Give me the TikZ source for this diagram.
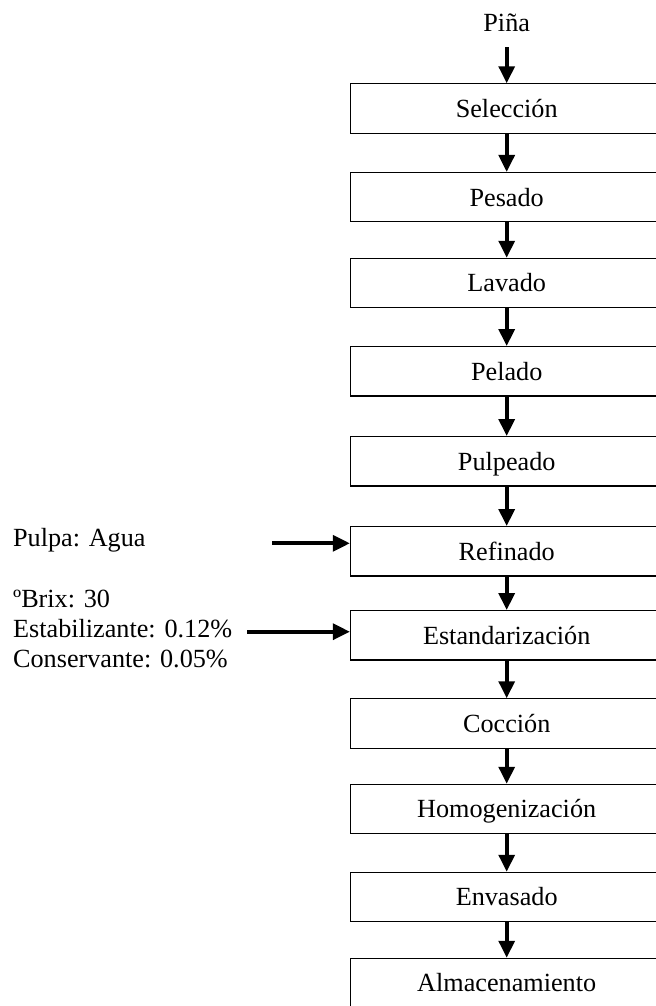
\documentclass[tikz,border=0pt]{standalone}
\usepackage{fontspec}
\setmainfont{Liberation Serif}
\usetikzlibrary{arrows.meta,calc}

\begin{document}
\begin{tikzpicture}[x=0.458pt,y=-0.458pt,
  caja/.style={draw,line width=0.5pt,minimum width=143.1pt,minimum height=22.6pt,inner sep=0pt,
    text height=8.6pt,text depth=0.4pt,font=\fontsize{12}{13.7}\selectfont},
  texto/.style={inner sep=0pt,font=\fontsize{12}{13.7}\selectfont},
  flecha/.style={line width=1.8pt,-{Triangle[length=7.8pt,width=7.2pt]}}]
%Hoja fija: 656 x 1006 px, las cajas se salen a la derecha y abajo
\useasboundingbox (0,0) rectangle (656,1006);
\clip (0,0) rectangle (656,1006);
  \pgfmathsetmacro{\xc}{506.7}
%Etapas del proceso: nombre/centro y/texto
\foreach \n/\y/\t in {sel/108.5/Selección, pes/197.2/Pesado, lav/283/Lavado, pel/371.3/Pelado,
  pul/461.3/Pulpeado, ref/551.3/Refinado, est/635.3/Estandarización, coc/723.5/Cocción,
  hom/809/Homogenización, env/897/Envasado, alm/983/Almacenamiento}{
\node[caja] (\n) at (\xc,\y) {\t};
}
\foreach \a/\b in {sel/pes, pes/lav, lav/pel, pel/pul, pul/ref, ref/est, est/coc, coc/hom, hom/env, env/alm}{
\draw[flecha] (\a.south) -- (\b.north);
}
\node[texto,anchor=base] (pina) at (\xc,31.7) {Piña};
\coordinate (pinasal) at (\xc,47);
\draw[flecha] (pinasal) -- (sel.north);
%Entradas por la izquierda (base = ultima linea)
\node[texto,anchor=base west] (pulpa) at (12.7,546.7) {Pulpa: Agua};
\node[texto,anchor=base west,align=left] (aditivos) at (12.7,667) {ºBrix: 30\\Estabilizante: 0.12\%\\Conservante: 0.05\%};
\coordinate (inpulpa) at (272,543.3);
\coordinate (inaditivos) at (247,631.7);
\draw[flecha] (inpulpa) -- (inpulpa -| ref.west);
\draw[flecha] (inaditivos) -- (inaditivos -| est.west);
\end{tikzpicture}
\end{document}
